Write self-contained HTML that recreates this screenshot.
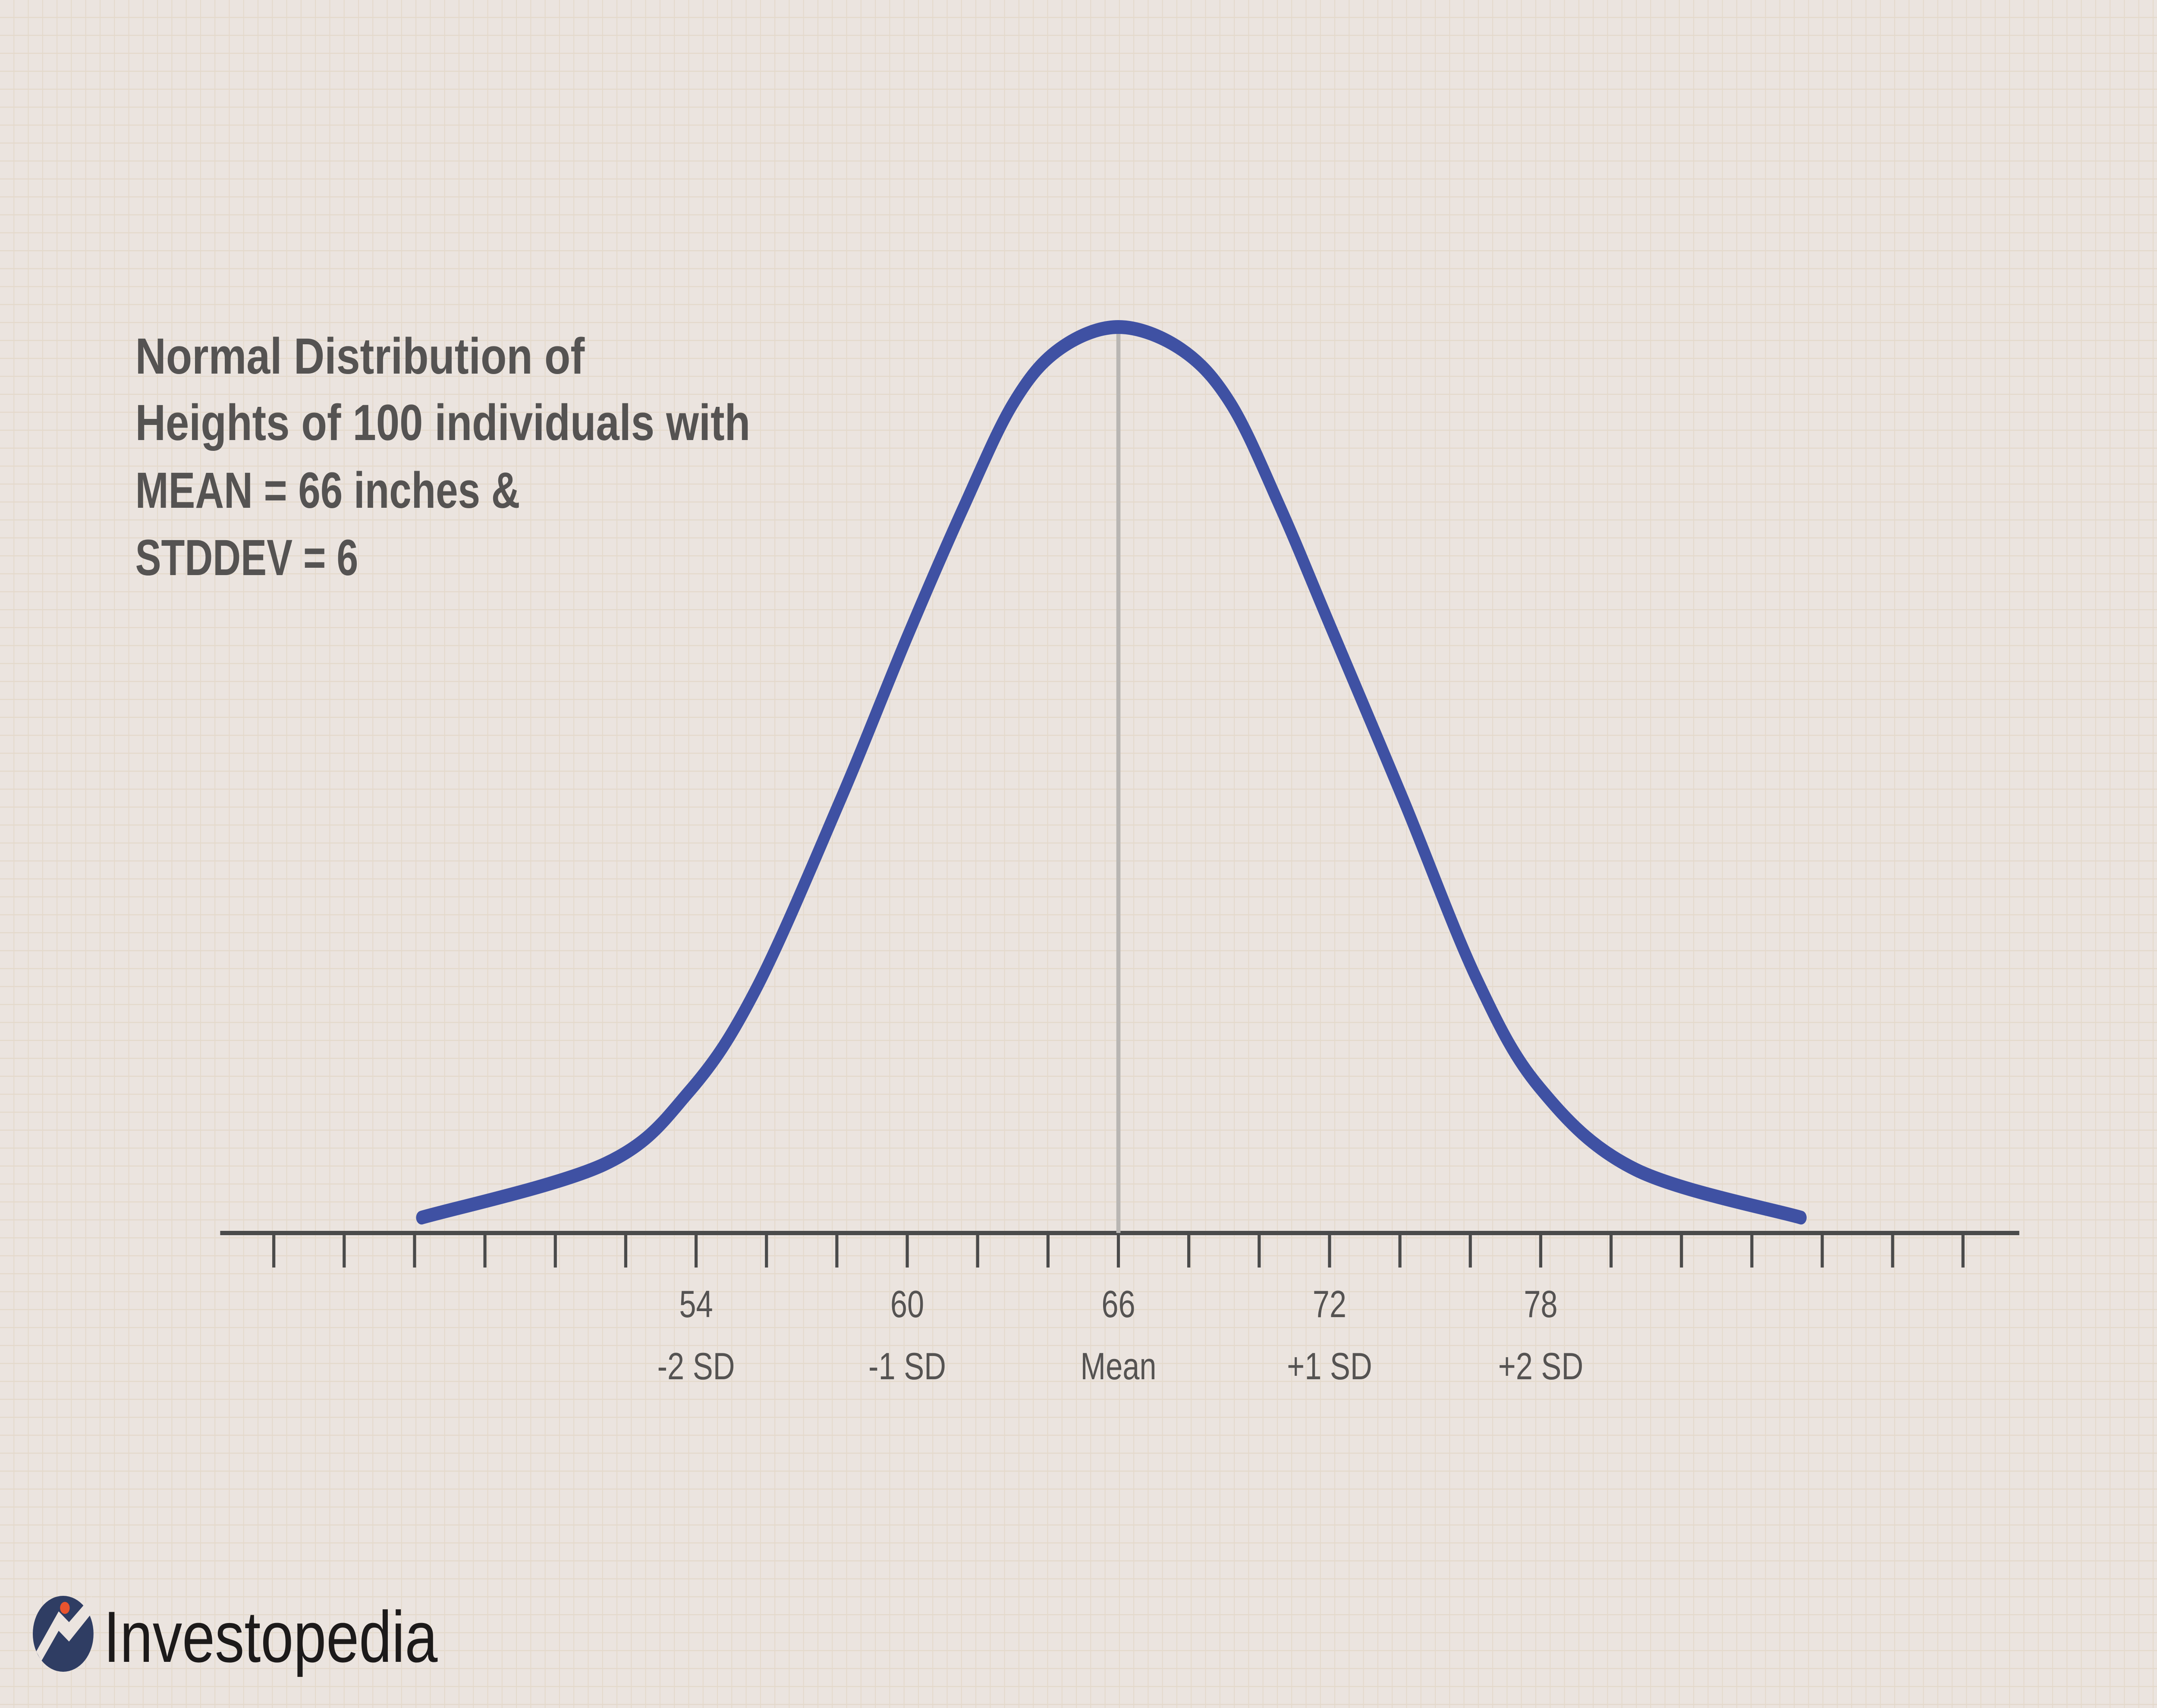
<!DOCTYPE html>
<html><head><meta charset="utf-8">
<style>
html,body{margin:0;padding:0;background:#ebe4df;width:100%;height:100%;overflow:hidden;}
svg{display:block;position:absolute;left:0;top:0;width:100vw;height:100vh;}
text{font-family:"Liberation Sans",sans-serif;}
</style></head>
<body>
<svg id="chart" viewBox="0 0 6250 3959" preserveAspectRatio="none" xmlns="http://www.w3.org/2000/svg" style="overflow:hidden">
<defs>
<pattern id="grid" width="41.6" height="41.6" patternUnits="userSpaceOnUse">
<path d="M41.6 0V41.6M0 41.6H41.6" stroke="#e4d9cb" stroke-width="5" fill="none"/>
</pattern>
</defs>
<rect width="6250" height="3959" fill="#ebe4df"/>
<rect width="6250" height="3959" fill="url(#grid)"/>
<g fill="#555352" font-weight="bold" font-size="118">
<text x="392" y="866" textLength="1302" lengthAdjust="spacingAndGlyphs">Normal Distribution of</text>
<text x="392" y="1020" textLength="1782" lengthAdjust="spacingAndGlyphs">Heights of 100 individuals with</text>
<text x="392" y="1177" textLength="1115" lengthAdjust="spacingAndGlyphs">MEAN = 66 inches &amp;</text>
<text x="392" y="1333" textLength="646" lengthAdjust="spacingAndGlyphs">STDDEV = 6</text>
</g>
<g id="plot"></g>
<g>
<circle cx="183" cy="3787" r="88" fill="#2f3d63"/>
<path d="M105 3828 L170 3735 L200 3760 L265 3700 L265 3740 L200 3805 L170 3780 L120 3850 Z" fill="#ebe4df"/>
<circle cx="188" cy="3727" r="14" fill="#e8542e"/>
<text x="300" y="3852" font-size="168" fill="#1c1a1a" textLength="968" lengthAdjust="spacingAndGlyphs">Investopedia</text>
</g>
</svg>
<script>
const heights = [46.2, 51.4, 53.8, 55.7, 58.1, 60.0, 61.6, 63.0, 64.3, 66.0, 67.8, 69.2, 70.6, 72.0, 74.1, 76.2, 78.0, 80.7, 85.4];
const density = [0.017, 0.076, 0.156, 0.269, 0.478, 0.658, 0.801, 0.915, 0.975, 1.0, 0.975, 0.915, 0.801, 0.672, 0.478, 0.279, 0.159, 0.070, 0.017];
const tickValues = [42,44,46,48,50,52,54,56,58,60,62,64,66,68,70,72,74,76,78,80,82,84,86,88,90];
const labelValues = [54, 60, 66, 72, 78];
const labelSub = ["-2 SD", "-1 SD", "Mean", "+1 SD", "+2 SD"];
const meanValue = 66;

const NS = "http://www.w3.org/2000/svg";
const plot = document.getElementById('plot');
const baseY = 2858, peakH = 2100;
function xs(v){ return 3240.6 + (v - 66) * 101.97; }
function ys(d){ return baseY - d * peakH; }
function mk(tag, attrs){ const e = document.createElementNS(NS, tag); for (const k in attrs) e.setAttribute(k, attrs[k]); plot.appendChild(e); return e; }

const axis = mk('line', {x1: 638, x2: 5851, y1: baseY, y2: baseY, stroke: '#4a4a4a', 'stroke-width': 10});



tickValues.forEach(v => {
  const t = mk('line', {x1: xs(v), x2: xs(v), y1: baseY, y2: baseY + 80, stroke: '#4a4a4a', 'stroke-width': 9});
  
  
});

labelValues.forEach((v, i) => {
  const a = mk('text', {x: xs(v), y: 3053, 'text-anchor': 'middle', 'font-size': 88, fill: '#555352'});
  a.textContent = String(v);
  
  
  const b = mk('text', {x: xs(v), y: 3197, 'text-anchor': 'middle', 'font-size': 88, fill: '#555352'});
  b.textContent = labelSub[i];
  
  
});

const meanLine = mk('line', {x1: xs(meanValue), x2: xs(meanValue), y1: ys(1), y2: baseY, stroke: '#b9b6b3', 'stroke-width': 12});



const pts = heights.map((h, i) => [xs(h), ys(density[i])]);
let d = `M${pts[0][0]},${pts[0][1]}`;
for (let i = 0; i < pts.length - 1; i++) {
  const p0 = pts[Math.max(0, i - 1)], p1 = pts[i], p2 = pts[i + 1], p3 = pts[Math.min(pts.length - 1, i + 2)];
  const c1 = [p1[0] + (p2[0] - p0[0]) / 6, p1[1] + (p2[1] - p0[1]) / 6];
  const c2 = [p2[0] - (p3[0] - p1[0]) / 6, p2[1] - (p3[1] - p1[1]) / 6];
  d += ` C${c1[0]},${c1[1]} ${c2[0]},${c2[1]} ${p2[0]},${p2[1]}`;
}
const curve = mk('path', {d: d, fill: 'none', stroke: '#3f51a3', 'stroke-width': 32, 'stroke-linecap': 'round', 'stroke-linejoin': 'round'});


</script>
</body></html>
